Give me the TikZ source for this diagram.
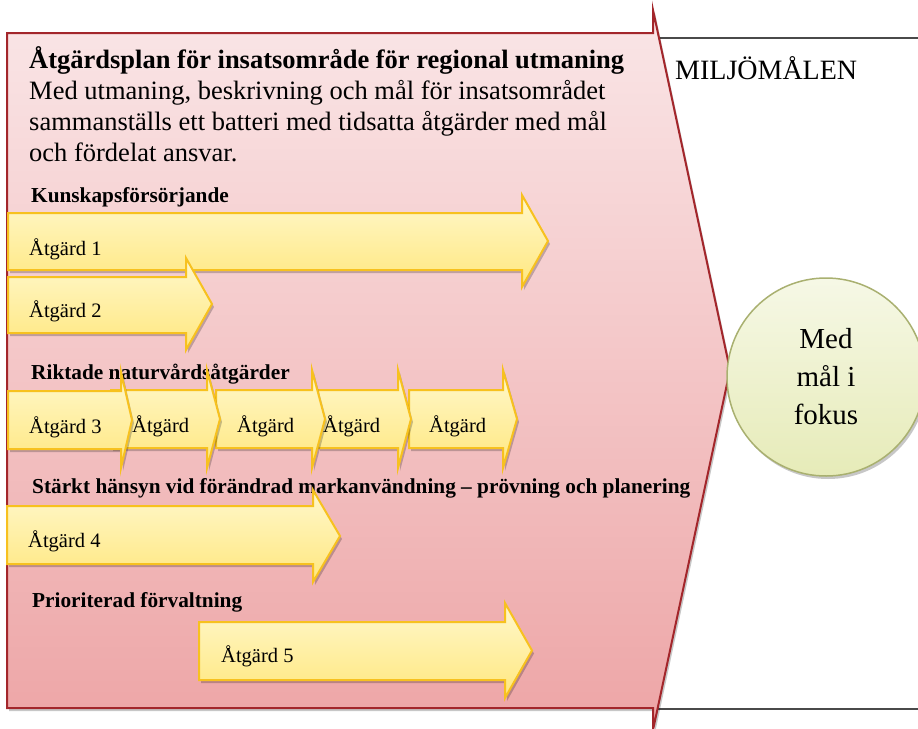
\documentclass[tikz,border=0pt]{standalone}
\usepackage{fontspec}
\setmainfont{Liberation Serif}
\usetikzlibrary{shadows}
\definecolor{pinktop}{HTML}{FAE6E7}
\definecolor{pinkbot}{HTML}{EDA5A6}
\definecolor{pinkline}{HTML}{A3262B}
\definecolor{ytop}{HTML}{FFF8CC}
\definecolor{ybot}{HTML}{FFE77E}
\definecolor{yline}{HTML}{F7C11F}
\definecolor{ctop}{HTML}{F6F8E6}
\definecolor{cbot}{HTML}{E6EBB8}
\definecolor{cline}{HTML}{A9B070}
\definecolor{boxline}{HTML}{4A4A4A}
\tikzset{
  softshadow/.style={drop shadow={shadow xshift=2pt, shadow yshift=-3pt, opacity=0.22, fill=black}},
  yarr/.style={draw=yline, line width=2pt, top color=ytop, bottom color=ybot, line join=miter, softshadow},
  lbl/.style={anchor=base west, inner sep=0pt, font=\fontsize{20.5}{24}\selectfont},
  headtxt/.style={anchor=base west, inner sep=0pt, font=\bfseries\fontsize{21.3}{25}\selectfont},
}
% name, x0, xhead, xtip, body top, body bottom, head top, head bottom
\newcommand\yarrow[8]{%
  \draw[yarr] (#2,#5) -- (#3,#5) -- (#3,#7) -- (#4,{(#7+#8)/2}) -- (#3,#8) -- (#3,#6) -- (#2,#6) -- cycle;
}
\begin{document}
\begin{tikzpicture}[x=1pt,y=-1pt]
\useasboundingbox (0,0) rectangle (918,728);
\clip (0,0) rectangle (918,728);
% right box
\draw[boxline, line width=1.6pt] (655,38) rectangle (940,709);
% big pink arrow
\draw[draw=pinkline, line width=2pt, top color=pinktop, bottom color=pinkbot, line join=miter, softshadow]
  (7,33) -- (653,33) -- (653,10) -- (730,370) -- (653,730) -- (653,708) -- (7,708) -- cycle;
\node[anchor=base west, inner sep=0pt, align=left, font=\fontsize{26.5}{31}\selectfont] (plan) at (29,161)
  {\textbf{Åtgärdsplan för insatsområde för regional utmaning}\\
   Med utmaning, beskrivning och mål för insatsområdet\\
   sammanställs ett batteri med tidsatta åtgärder med mål\\
   och fördelat ansvar.};
% headings
\node[headtxt] (h1) at (31,202) {Kunskapsförsörjande};
\node[headtxt] (h2) at (31,379) {Riktade naturvårdsåtgärder};
\node[headtxt] (h3) at (32,493) {Stärkt hänsyn vid förändrad markanvändning – prövning och planering};
\node[headtxt] (h4) at (32,607) {Prioriterad förvaltning};
% row 1-2
\yarrow{a1}{8}{522}{548}{213}{270}{195}{287}
\node[lbl] (t1) at (29,255) {Åtgärd 1};
\yarrow{a2}{8}{186}{212}{277}{333}{258}{350}
\node[lbl] (t2) at (29,317) {Åtgärd 2};
% row 3
\yarrow{ae}{409}{503}{517}{390}{448}{370}{468}
\node[lbl] (te) at (429,432) {Åtgärd};
\yarrow{ad}{318}{398}{411}{390}{448}{370}{468}
\node[lbl] (td) at (323,432) {Åtgärd};
\yarrow{ac}{216}{312}{325}{390}{448}{370}{468}
\node[lbl] (tc) at (237,432) {Åtgärd};
\yarrow{ab}{111}{207}{220}{390}{448}{370}{468}
\node[lbl] (tb) at (132,432) {Åtgärd};
\yarrow{a3}{8}{121}{132}{391}{449}{372}{468}
\node[lbl] (t3) at (29,433) {Åtgärd 3};
% row 4
\yarrow{a4}{7}{313}{340}{506}{564}{490}{582}
\node[lbl] (t4) at (28,547) {Åtgärd 4};
% row 5
\yarrow{a5}{199}{505}{532}{622}{680}{603}{698}
\node[lbl] (t5) at (221,662) {Åtgärd 5};
% right side
\node[anchor=base west, inner sep=0pt, font=\fontsize{28}{32}\selectfont] (mil) at (675,79) {MILJÖMÅLEN};
\node[circle, minimum size=198pt, inner sep=0pt, draw=cline, line width=1.5pt, top color=ctop, bottom color=cbot,
  softshadow, align=center, font=\fontsize{29}{38}\selectfont] (goal) at (826,377) {Med\\mål i\\fokus};
\end{tikzpicture}
\end{document}
